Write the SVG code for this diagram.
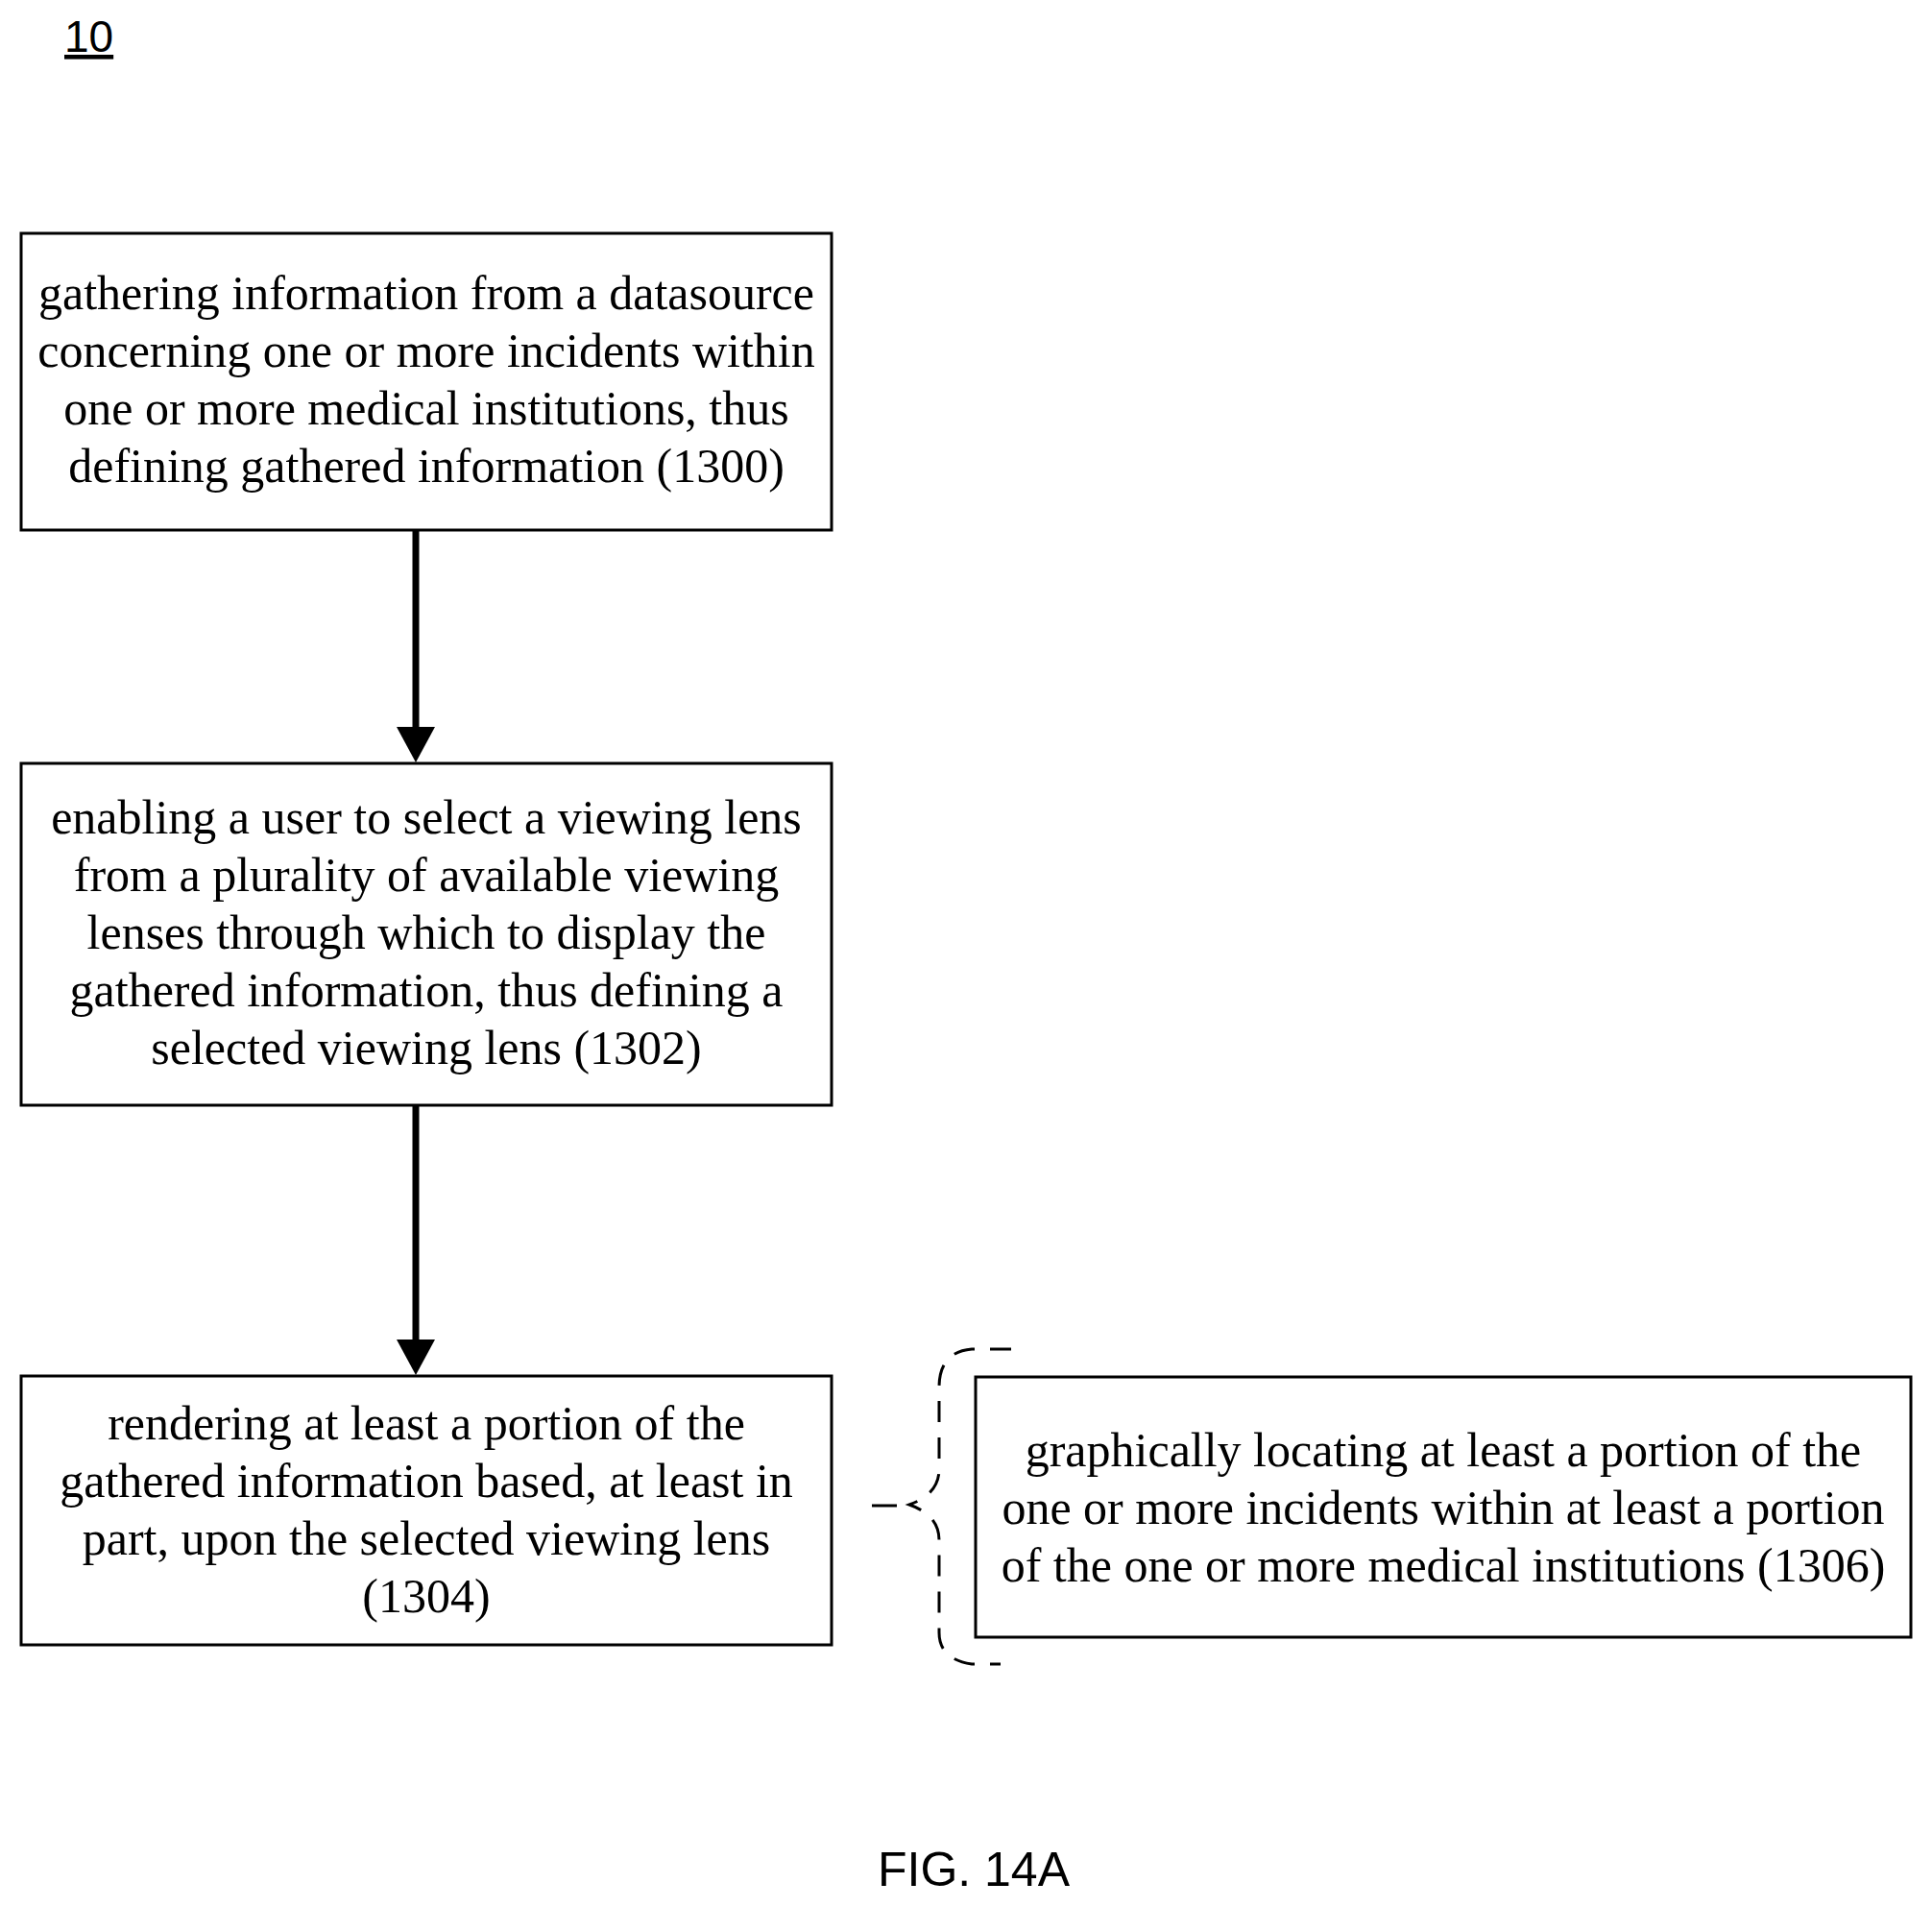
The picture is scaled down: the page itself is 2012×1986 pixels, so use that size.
<svg xmlns="http://www.w3.org/2000/svg" width="2012" height="1986" viewBox="0 0 2012 1986">
<defs>
<style>
.box{fill:#fff;stroke:#000;stroke-width:3}
.t{font-family:"Liberation Serif","Times New Roman",serif;font-size:50px;text-anchor:middle;fill:#000}
.s{font-family:"Liberation Sans",sans-serif;fill:#000}
</style>
</defs>
<rect width="2012" height="1986" fill="#fff"/>
<text class="s" x="67" y="54" font-size="46" text-decoration="underline">10</text>
<g id="n1300"><rect class="box" x="22" y="243" width="844" height="309"/>
<text class="t"><tspan x="444" y="322">gathering information from a datasource</tspan><tspan x="444" y="382">concerning one or more incidents within</tspan><tspan x="444" y="442">one or more medical institutions, thus</tspan><tspan x="444" y="502">defining gathered information (1300)</tspan></text></g>
<g id="n1302"><rect class="box" x="22" y="795" width="844" height="356"/>
<text class="t"><tspan x="444" y="868">enabling a user to select a viewing lens</tspan><tspan x="444" y="928">from a plurality of available viewing</tspan><tspan x="444" y="988">lenses through which to display the</tspan><tspan x="444" y="1048">gathered information, thus defining a</tspan><tspan x="444" y="1108">selected viewing lens (1302)</tspan></text></g>
<g id="n1304"><rect class="box" x="22" y="1433" width="844" height="280"/>
<text class="t"><tspan x="444" y="1499">rendering at least a portion of the</tspan><tspan x="444" y="1559">gathered information based, at least in</tspan><tspan x="444" y="1619">part, upon the selected viewing lens</tspan><tspan x="444" y="1679">(1304)</tspan></text></g>
<g id="n1306"><rect class="box" x="1016" y="1434" width="974" height="271"/>
<text class="t"><tspan x="1503" y="1527">graphically locating at least a portion of the</tspan><tspan x="1503" y="1587">one or more incidents within at least a portion</tspan><tspan x="1503" y="1647">of the one or more medical institutions (1306)</tspan></text></g>
<g id="connectors" stroke="#000" fill="none">
<line x1="433" y1="552" x2="433" y2="764" stroke-width="7"/>
<path d="M413,757 L453,757 L433,794 z" fill="#000" stroke="none"/>
<line x1="433" y1="1151" x2="433" y2="1402" stroke-width="7"/>
<path d="M413,1395 L453,1395 L433,1432 z" fill="#000" stroke="none"/>
<path d="M1053,1405 L1012,1405 Q978,1408 978,1445 L978,1530 Q978,1556 947,1567 Q978,1578 978,1604 L978,1700 Q978,1728 1012,1733 L1042,1733" stroke-width="3" stroke-dasharray="22,16"/>
<line x1="908" y1="1568" x2="934" y2="1568" stroke-width="3"/>
</g>
<text class="s" x="1014" y="1964" font-size="50" text-anchor="middle">FIG. 14A</text>
</svg>
